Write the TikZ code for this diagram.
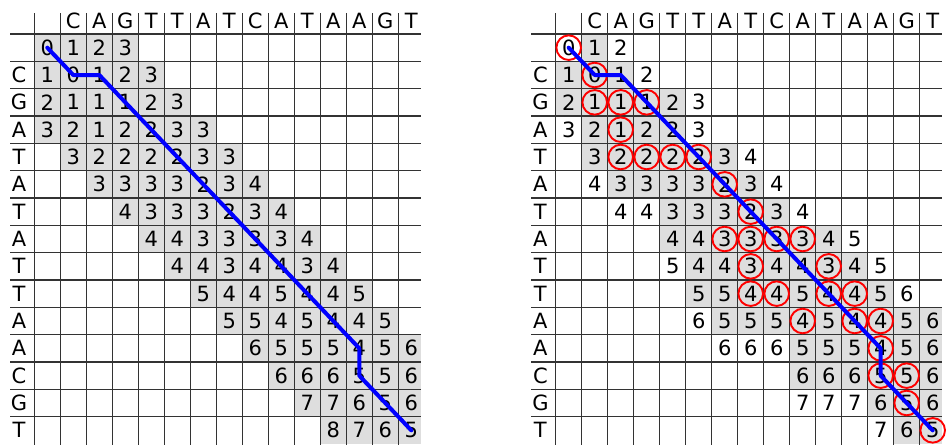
\documentclass[tikz,border=0pt]{standalone}
\usepackage{fontspec}
\setmainfont{DejaVu Sans}
\pgfdeclarelayer{bg}
\pgfdeclarelayer{gridl}
\pgfdeclarelayer{top}
\pgfsetlayers{bg,gridl,main,top}
\tikzset{
  cellfill/.style={fill=black!13},
  gridline/.style={draw=black!80, line width=1.2pt},
  val/.style={inner sep=0pt, font=\fontsize{21}{21}\selectfont},
  ring/.style={draw=red, line width=1.9pt, circle, minimum size=24.6pt, inner sep=0pt},
  bluepath/.style={draw=blue, line width=4pt, line cap=round, line join=round}
}
\newcommand\mygridframe[2]{% #1 = prefix, #2 = x offset
  \begin{pgfonlayer}{gridl}
    \foreach \k in {0,...,14}{
      \draw[gridline] (#2+34.3+26*\k,13) -- (#2+34.3+26*\k,445);
      \draw[gridline] (#2+10,34+27.333*\k) -- (#2+420.7,34+27.333*\k);
    }
  \end{pgfonlayer}
  \foreach \c [count=\n] in {C,A,G,T,T,A,T,C,A,T,A,A,G,T}
    \node[val] (#1H-\n) at (#2+47.3+26*\n,20.5) {\c};
  \foreach \c [count=\n] in {C,G,A,T,A,T,A,T,T,A,A,C,G,T}
    \node[val] (#1V-\n) at (#2+19,47.67+27.333*\n) {\c};
}
\newcommand\mytrail[1]{%
  \begin{pgfonlayer}{top}
  \draw[bluepath] (#1-0-0.center) -- (#1-1-1.center) -- (#1-1-2.center)
    -- (#1-2-3.center) -- (#1-3-4.center) -- (#1-4-5.center) -- (#1-5-6.center)
    -- (#1-6-7.center) -- (#1-7-8.center) -- (#1-8-9.center) -- (#1-9-10.center)
    -- (#1-10-11.center) -- (#1-11-12.center) -- (#1-12-12.center)
    -- (#1-13-13.center) -- (#1-14-14.center);
  \end{pgfonlayer}
}
\begin{document}
\begin{tikzpicture}[x=1pt,y=-1pt]
\useasboundingbox (0,0) rectangle (948,445);
% ---------------- left grid ----------------
\mygridframe{L}{0}
\foreach \i/\s/\vals in {
  0/0/{0,1,2,3},
  1/0/{1,0,1,2,3},
  2/0/{2,1,1,1,2,3},
  3/0/{3,2,1,2,2,3,3},
  4/1/{3,2,2,2,2,3,3},
  5/2/{3,3,3,3,2,3,4},
  6/3/{4,3,3,3,2,3,4},
  7/4/{4,4,3,3,3,3,4},
  8/5/{4,4,3,4,4,3,4},
  9/6/{5,4,4,5,4,4,5},
  10/7/{5,5,4,5,4,4,5},
  11/8/{6,5,5,5,4,5,6},
  12/9/{6,6,6,5,5,6},
  13/10/{7,7,6,5,6},
  14/11/{8,7,6,5}}{
  \foreach \v [count=\n from 0] in \vals {
    \pgfmathtruncatemacro\j{\s+\n}
    \pgfmathsetmacro\cx{47.3+26*\j}
    \pgfmathsetmacro\cy{47.67+27.333*\i}
    \pgfmathsetmacro\rx{\j==14 ? 420.7 : \cx+13}
    \begin{pgfonlayer}{bg}
      \fill[cellfill] (\cx-13,\cy-13.667) rectangle (\rx,\cy+13.667);
    \end{pgfonlayer}
    \node[val] (L-\i-\j) at (\cx,\cy) {\v};
  }
}
\mytrail{L}
% ---------------- right grid ----------------
\mygridframe{R}{521.4}
\foreach \i/\s/\vals in {
  0/0/{0/0/1,1/1/0,2/0/0},
  1/0/{1/1/0,0/1/1,1/1/0,2/0/0},
  2/0/{2/1/0,1/1/1,1/1/1,1/1/1,2/1/0,3/0/0},
  3/0/{3/0/0,2/1/0,1/1/1,2/1/0,2/1/0,3/0/0},
  4/1/{3/1/0,2/1/1,2/1/1,2/1/1,2/1/1,3/1/0,4/0/0},
  5/1/{4/0/0,3/1/0,3/1/0,3/1/0,3/1/0,2/1/1,3/1/0,4/0/0},
  6/2/{4/0/0,4/0/0,3/1/0,3/1/0,3/1/0,2/1/1,3/1/0,4/0/0},
  7/4/{4/1/0,4/1/0,3/1/1,3/1/1,3/1/1,3/1/1,4/1/0,5/0/0},
  8/4/{5/0/0,4/1/0,4/1/0,3/1/1,4/1/0,4/1/0,3/1/1,4/1/0,5/0/0},
  9/5/{5/1/0,5/1/0,4/1/1,4/1/1,5/1/0,4/1/1,4/1/1,5/1/0,6/0/0},
  10/5/{6/0/0,5/1/0,5/1/0,5/1/0,4/1/1,5/1/0,4/1/1,4/1/1,5/1/0,6/1/0},
  11/6/{6/0/0,6/0/0,6/0/0,5/1/0,5/1/0,5/1/0,4/1/1,5/1/0,6/1/0},
  12/9/{6/1/0,6/1/0,6/1/0,5/1/1,5/1/1,6/1/0},
  13/9/{7/0/0,7/0/0,7/0/0,6/1/0,5/1/1,6/1/0},
  14/12/{7/0/0,6/1/0,5/1/1}}{
  \foreach \v/\g/\c [count=\n from 0] in \vals {
    \pgfmathtruncatemacro\j{\s+\n}
    \pgfmathsetmacro\cx{568.7+26*\j}
    \pgfmathsetmacro\cy{47.67+27.333*\i}
    \pgfmathsetmacro\rx{\j==14 ? 942.1 : \cx+13}
    \ifnum\g=1
      \begin{pgfonlayer}{bg}
        \fill[cellfill] (\cx-13,\cy-13.667) rectangle (\rx,\cy+13.667);
      \end{pgfonlayer}
    \fi
    \node[val] (R-\i-\j) at (\cx,\cy) {\v};
    \ifnum\c=1
      \node[ring] (C-\i-\j) at (R-\i-\j.center) {};
    \fi
  }
}
\mytrail{R}
\end{tikzpicture}
\end{document}
